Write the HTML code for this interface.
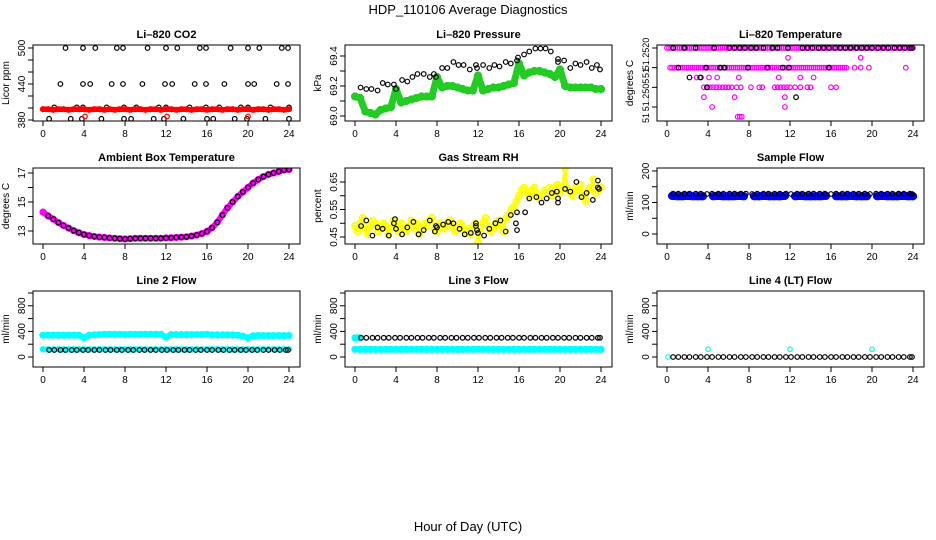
<!DOCTYPE html>
<html><head><meta charset="utf-8">
<style>
html,body{margin:0;padding:0;background:#fff;}
svg{display:block;font-family:"Liberation Sans",Arial,sans-serif;}
</style></head>
<body>
<svg id="chart" width="936" height="540" viewBox="0 0 936 540" xmlns="http://www.w3.org/2000/svg">
<text x="468" y="14" text-anchor="middle" font-size="13">HDP_110106  Average Diagnostics</text>
<text x="468" y="531" text-anchor="middle" font-size="13">Hour of Day (UTC)</text>
</svg>
<script>
// ---------- DATA ----------
const xTicks = [0,4,8,12,16,20,24];
const halfHours = [0,0.5,1,1.5,2,2.5,3,3.5,4,4.5,5,5.5,6,6.5,7,7.5,8,8.5,9,9.5,10,10.5,11,11.5,12,12.5,13,13.5,14,14.5,15,15.5,16,16.5,17,17.5,18,18.5,19,19.5,20,20.5,21,21.5,22,22.5,23,23.5,24];

// CO2
const co2BlackT = [2.2,3.9,5.1,7.2,7.8,10.2,12.0,13.1,15.3,15.9,18.3,20.0,21.1,23.3,23.9, 1.7,3.9,4.6,6.7,7.8,9.7,11.9,12.6,14.8,15.9,17.7,20.0,20.6,22.8,23.9, 1.1,3.3,3.9,6.2,7.9,9.1,11.3,12.0,14.3,15.9,17.2,19.3,20.0,22.2,24.0, 0.6,2.7,3.8,5.7,7.9,8.6,10.8,11.8,13.7,16.0,16.6,18.7,19.9,21.7,24.0];
const co2BlackV = [500,500,500,500,500,500,500,500,500,500,500,500,500,500,500, 440,440,440,440,440,440,440,440,440,440,440,440,440,440,440, 401,401,401,401,401,401,401,401,401,401,401,401,401,401,401, 382,382,382,382,382,382,382,382,382,382,382,382,382,382,382];
const co2RedV = [398,398,397,398,398,397,398,398,398,397,398,398,397,398,397,398,398,397,398,398,397,398,398,397,398,398,397,398,398,397,398,398,397,398,398,397,398,398,397,398,398,397,398,398,397,398,398,397,398];
const co2RedSpikeT = [4.1,12.1,20.0];
const co2RedSpikeV = [386,386,386];

// Pressure
const presGreenV = [69.13,69.12,69.03,69.02,69.01,69.04,69.05,69.06,69.18,69.09,69.10,69.11,69.12,69.13,69.13,69.13,69.26,69.19,69.20,69.20,69.19,69.18,69.17,69.17,69.27,69.17,69.18,69.19,69.19,69.20,69.21,69.22,69.35,69.27,69.29,69.30,69.30,69.29,69.28,69.26,69.31,69.20,69.19,69.19,69.19,69.19,69.19,69.18,69.18];
const presBlackT = [0.55,1.1,1.6,2.2,2.7,3.2,3.8,4.0,4.6,5.1,5.6,6.1,6.7,7.3,7.7,7.9,8.5,9.0,9.6,10.1,10.6,11.2,11.8,11.9,12.5,13.1,13.6,14.1,14.7,15.2,15.8,15.9,16.5,17.0,17.6,18.1,18.6,19.1,19.8,19.8,20.4,21.0,21.5,22.0,22.6,23.1,23.6,23.9];
const presBlackV = [69.19,69.18,69.18,69.17,69.22,69.21,69.21,69.18,69.24,69.23,69.26,69.28,69.28,69.26,69.28,69.26,69.32,69.32,69.36,69.34,69.34,69.31,69.34,69.32,69.34,69.32,69.34,69.33,69.36,69.35,69.37,69.39,69.41,69.43,69.45,69.45,69.45,69.43,69.38,69.36,69.37,69.32,69.35,69.34,69.36,69.32,69.34,69.31];

// Li-820 temperature
const tempBandStart = [0.0, 0.3];
const tempBandEnd = [24.0, 17.6];
const tempBandLevel = [51.2520, 51.2515];
const tempMagT = [18.3,18.9,19.7,23.3,11.8,18.9,2.9,3.2,4.1,4.9,7.0,10.9,13.0,14.3,3.6,3.9,4.2,4.5,4.8,5.1,5.4,5.7,6.0,6.3,6.8,7.2,8.2,9.0,9.3,10.5,10.8,11.1,11.4,11.7,12.0,12.5,13.0,13.7,14.0,16.0,16.5,3.6,6.6,11.5,4.4,11.5,6.9,7.1,7.3];
const tempMagV = [51.2515,51.2515,51.2515,51.2515,51.25175,51.25175,51.25125,51.25125,51.25125,51.25125,51.25125,51.25125,51.25125,51.25125,51.2510,51.2510,51.2510,51.2510,51.2510,51.2510,51.2510,51.2510,51.2510,51.2510,51.2510,51.2510,51.2510,51.2510,51.2510,51.2510,51.2510,51.2510,51.2510,51.2510,51.2510,51.2510,51.2510,51.2510,51.2510,51.2510,51.2510,51.25075,51.25075,51.25075,51.2505,51.2505,51.25025,51.25025,51.25025];
const tempBlackT = [0.6,1.7,2.8,4.6,6.1,6.6,7.1,7.6,8.2,8.7,9.4,10.3,10.8,11.8,13.2,13.7,14.2,14.8,15.3,15.8,16.4,16.9,17.4,17.9,18.5,19.0,19.5,20.0,20.6,21.1,21.6,22.2,22.7,23.2,23.7,23.9,1.1,3.8,5.2,5.6,7.9,9.8,11.3,11.9,15.8,2.2,3.3,3.9,12.6];
const tempBlackV = [51.2520,51.2520,51.2520,51.2520,51.2520,51.2520,51.2520,51.2520,51.2520,51.2520,51.2520,51.2520,51.2520,51.2520,51.2520,51.2520,51.2520,51.2520,51.2520,51.2520,51.2520,51.2520,51.2520,51.2520,51.2520,51.2520,51.2520,51.2520,51.2520,51.2520,51.2520,51.2520,51.2520,51.2520,51.2520,51.2520,51.2515,51.2515,51.2515,51.2515,51.2515,51.2515,51.2515,51.2515,51.2515,51.25125,51.25125,51.2510,51.25075];

// Ambient box temperature
const ambMagV = [14.3,14.05,13.82,13.58,13.38,13.2,13.02,12.88,12.76,12.68,12.62,12.58,12.55,12.52,12.5,12.47,12.45,12.47,12.5,12.5,12.5,12.5,12.5,12.5,12.52,12.53,12.55,12.57,12.6,12.65,12.72,12.82,12.97,13.22,13.6,14.1,14.6,15.0,15.38,15.7,16.0,16.3,16.55,16.75,16.9,17.0,17.1,17.2,17.25];
const ambBlackV = [14.28,14.05,13.82,13.58,13.38,13.2,13.02,12.88,12.76,12.68,12.62,12.58,12.55,12.52,12.5,12.47,12.45,12.47,12.5,12.5,12.5,12.5,12.5,12.5,12.52,12.53,12.55,12.57,12.6,12.65,12.72,12.82,12.97,13.22,13.6,14.1,14.6,15.0,15.38,15.7,16.0,16.3,16.55,16.75,16.9,17.0,17.1,17.2,17.25];

// Gas stream RH
const rhYellowV = [.49,.47,.50,.52,.48,.46,.49,.51,.50,.47,.48,.50,.49,.46,.48,.51,.49,.47,.50,.48,.47,.49,.51,.48,.50,.46,.48,.50,.49,.51,.52,.48,.47,.50,.49,.48,.50,.51,.49,.47,.48,.50,.49,.47,.48,.46,.49,.50,.43,.47,.50,.52,.49,.47,.48,.50,.51,.49,.47,.52,.53,.55,.56,.58,.60,.62,.63,.61,.60,.62,.63,.61,.59,.60,.62,.61,.63,.60,.62,.64,.61,.63,.70,.62,.61,.60,.63,.62,.64,.60,.58,.62,.63,.66,.61,.62,.63];
const rhYellowT = [0,0.25,0.5,0.75,1,1.25,1.5,1.75,2,2.25,2.5,2.75,3,3.25,3.5,3.75,4,4.25,4.5,4.75,5,5.25,5.5,5.75,6,6.25,6.5,6.75,7,7.25,7.5,7.75,8,8.25,8.5,8.75,9,9.25,9.5,9.75,10,10.25,10.5,10.75,11,11.25,11.5,11.75,12,12.25,12.5,12.75,13,13.25,13.5,13.75,14,14.25,14.5,14.75,15,15.25,15.5,15.75,16,16.25,16.5,16.75,17,17.25,17.5,17.75,18,18.25,18.5,18.75,19,19.25,19.5,19.75,20,20.25,20.5,20.75,21,21.25,21.5,21.75,22,22.25,22.5,22.75,23,23.25,23.5,23.75,24];
const rhBlackT = [0.6,1.1,1.7,2.2,2.7,3.3,3.8,3.9,4.0,4.6,5.1,5.7,6.2,6.7,7.3,7.8,7.9,8.0,8.6,9.1,9.6,10.2,10.7,11.3,11.8,11.8,11.9,12.0,12.6,13.1,13.7,14.2,14.7,15.2,15.7,15.8,15.8,16.6,17.0,17.7,18.2,18.7,19.2,19.7,19.8,19.8,20.5,21.0,21.6,22.1,22.6,23.2,23.7,23.7,23.8];
const rhBlackV = [.49,.51,.455,.485,.48,.455,.50,.515,.48,.46,.485,.505,.46,.475,.51,.47,.49,.485,.495,.505,.50,.48,.46,.465,.50,.49,.475,.465,.455,.48,.50,.51,.47,.53,.50,.475,.54,.54,.59,.595,.575,.59,.61,.615,.575,.59,.625,.615,.65,.595,.61,.585,.655,.63,.625];

// Flow panels
const flowBlackT = [0.6,1.1,1.7,2.2,2.8,3.3,3.9,4.4,5.0,5.5,6.1,6.6,7.2,7.7,8.3,8.8,9.4,9.9,10.5,11.0,11.6,12.1,12.7,13.2,13.8,14.3,14.9,15.4,16.0,16.5,17.1,17.6,18.2,18.7,19.3,19.8,20.4,20.9,21.5,22.0,22.6,23.1,23.7,23.9];
const sampleBlackV = [128,128,128,128,128,128,127,128,128,128,128,128,128,128,127,128,128,128,128,128,128,127,128,128,128,128,128,128,127,128,128,128,128,128,128,127,128,128,128,128,128,128,128,127];
const sampleBlueV = [null,121,120,120,121,120,120,120,null,120,121,120,120,120,121,120,null,120,120,121,120,120,120,121,null,120,121,120,120,120,120,121,null,120,120,120,121,120,120,120,null,120,121,120,120,120,121,120,120];
const line2UpperV = [340,340,340,340,340,340,340,340,300,340,345,350,355,355,355,355,350,355,355,355,355,355,355,355,310,350,350,350,350,350,350,350,355,345,345,345,345,345,340,325,300,330,335,335,335,335,335,335,335];
const line2LowerV = [120,120,120,120,120,120,120,120,120,120,120,120,120,120,120,120,120,120,120,120,120,120,120,120,120,120,120,120,120,120,120,120,120,120,120,120,120,120,120,120,120,120,120,120,120,120,120,120,120];
const line2BlackV = [110,110,110,110,110,110,110,110,110,110,110,110,110,110,110,110,110,110,110,110,110,110,110,110,110,110,110,110,110,110,110,110,110,110,110,110,110,110,110,110,110,110,110,110];
const line3UpperT = [0,0.25,0.5];
const line3UpperV = [300,300,300];
const line3LowerV = [120,118,118,118,118,118,118,118,118,118,118,118,118,118,118,118,118,118,118,118,118,118,118,118,122,118,118,118,118,118,118,118,118,118,118,118,118,118,118,118,118,118,118,118,118,118,118,118,118];
const line3BlackV = [300,300,300,300,300,300,300,300,300,300,300,300,300,300,300,300,300,300,300,300,300,300,300,300,300,300,300,300,300,300,300,300,300,300,300,300,300,300,300,300,300,300,300,300];
const line4CyanT = [0.1,4.0,12.0,20.0];
const line4CyanV = [0,120,120,120];
const line4BlackV = [0,0,0,0,0,0,0,0,0,0,0,0,0,0,0,0,0,0,0,0,0,0,0,0,0,0,0,0,0,0,0,0,0,0,0,0,0,0,0,0,0,0,0,0];

// ---------- DRAWING ----------
const NS = "http://www.w3.org/2000/svg";
const svg = document.getElementById('chart');
const colLeft = [33, 345, 657];
const rowTop = [45, 168, 291];
const BW = 267, BH = 76;
function mk(tag, attrs, parent){ const e=document.createElementNS(NS,tag); for(const k in attrs) e.setAttribute(k,attrs[k]); (parent||svg).appendChild(e); return e; }

function panel(cfg){
  const L = colLeft[cfg.col], T = rowTop[cfg.row];
  const g = mk('g',{});
  
  
  const sx = t => L + 10 + t * (246/24);
  const sy = v => T + cfg.o1 + (v - cfg.v1) * (cfg.o2 - cfg.o1) / (cfg.v2 - cfg.v1);
  const tt = mk('text',{x:L+BW/2, y:T-7, 'text-anchor':'middle','font-size':11,'font-weight':'bold'}, g);
  tt.textContent = cfg.title;
  
  
  xTicks.forEach(t=>{
    mk('line',{x1:sx(t),x2:sx(t),y1:T+BH,y2:T+BH+5,stroke:'#000','stroke-width':1}, g);
    const tl = mk('text',{x:sx(t),y:T+BH+16,'text-anchor':'middle','font-size':10}, g);
    tl.textContent = t;
    
    
  });
  cfg.yTicks.forEach(v=>{
    mk('line',{x1:L-5,x2:L,y1:sy(v),y2:sy(v),stroke:'#000','stroke-width':1}, g);
  });
  const fs = cfg.yFont || 10;
  cfg.yLabels.forEach((lab,i)=>{
    const y = cfg.yLabelPos ? T + cfg.yLabelPos[i] : sy(cfg.yLabelVals[i]);
    const yl = mk('text',{x:L-8,y:y,'text-anchor':'middle','font-size':fs,transform:`rotate(-90 ${L-8} ${y})`}, g);
    yl.textContent = lab;
    
    
  });
  const ya = mk('text',{x:L-24,y:T+BH/2,'text-anchor':'middle','font-size':10,transform:`rotate(-90 ${L-24} ${T+BH/2})`}, g);
  ya.textContent = cfg.ylab;
  
  
  const cid = 'clip'+cfg.col+cfg.row;
  const cp = mk('clipPath',{id:cid}, g);
  mk('rect',{x:L,y:T,width:BW,height:BH}, cp);
  const pg = mk('g',{'clip-path':`url(#${cid})`}, g);
  cfg.series.forEach(s=>{
    const sg = mk('g',{}, pg);
    
    
    if(s.lw){
      let d='', pen=false;
      for(let i=0;i<s.v.length;i++){
        if(s.v[i]===null){pen=false;continue;}
        d += (pen?'L':'M') + sx(s.t[i]).toFixed(1)+' '+sy(s.v[i]).toFixed(1)+' ';
        pen=true;
      }
      const p = mk('path',{d:d,fill:'none',stroke:s.color,'stroke-width':s.lw,'stroke-linecap':'round','stroke-linejoin':'round'}, sg);
      
      
    }
    for(let i=0;i<s.v.length;i++){
      if(s.v[i]===null || s.t[i]===undefined) continue;
      const c = mk('circle',{cx:sx(s.t[i]).toFixed(1), cy:sy(s.v[i]).toFixed(1), r:s.r||2.3,
        fill:s.fill?s.color:'none', stroke:s.color,'stroke-width':s.sw||1.2}, sg);
      
      
    }
  });
  const box = mk('rect',{x:L,y:T,width:BW,height:BH,fill:'none',stroke:'#000','stroke-width':1}, g);
  
  
}

const bandT=[], bandV=[];
for(let b=0;b<tempBandStart.length;b++){
  for(let t=tempBandStart[b]; t<=tempBandEnd[b]+1e-9; t+=0.2){ bandT.push(t); bandV.push(tempBandLevel[b]); }
}

panel({col:0,row:0,name:'co2-panel',title:'Li–820 CO2',ylab:'Licor ppm',v1:500,o1:3,v2:380,o2:75,
  yTicks:[380,400,420,440,460,480,500],yLabels:['380','440','500'],yLabelVals:[380,440,500],
  series:[{name:'co2-average',t:co2BlackT,v:co2BlackV,color:'#000'},
          {name:'co2-raw',t:halfHours,v:co2RedV,color:'#ff0000',r:2.5,fill:true,lw:5.5},
          {name:'co2-raw-spikes',t:co2RedSpikeT,v:co2RedSpikeV,color:'#ff0000'}]});
panel({col:1,row:0,name:'pressure-panel',title:'Li–820 Pressure',ylab:'kPa',v1:69.4,o1:11,v2:69.0,o2:71,
  yTicks:[69.0,69.1,69.2,69.3,69.4],yLabels:['69.0','69.2','69.4'],yLabelVals:[69.0,69.2,69.4],
  series:[{name:'pressure-raw',t:halfHours,v:presGreenV,color:'#22cc22',r:3.5,fill:true,lw:7},
          {name:'pressure-average',t:presBlackT,v:presBlackV,color:'#000'}]});
panel({col:2,row:0,name:'li820-temperature-panel',title:'Li–820 Temperature',ylab:'degrees C',v1:51.2520,o1:3,v2:51.2505,o2:62,
  yTicks:[51.2520,51.2515,51.2510,51.2505],yLabels:['51.2520','51','51.2505','51'],yLabelPos:[9,28,50,73],yFont:9,
  series:[{name:'temperature-raw-band',t:bandT,v:bandV,color:'#ff00ff',r:2.3},
          {name:'temperature-raw',t:tempMagT,v:tempMagV,color:'#ff00ff'},
          {name:'temperature-average',t:tempBlackT,v:tempBlackV,color:'#000'}]});
panel({col:0,row:1,name:'ambient-temperature-panel',title:'Ambient Box Temperature',ylab:'degrees C',v1:17,o1:5,v2:13,o2:63,
  yTicks:[13,14,15,16,17],yLabels:['13','15','17'],yLabelVals:[13,15,17],
  series:[{name:'ambient-raw',t:halfHours,v:ambMagV,color:'#ff00ff',r:3,fill:true,lw:6},
          {name:'ambient-average',t:halfHours.slice(1),v:ambBlackV.slice(1),color:'#000'}]});
panel({col:1,row:1,name:'gas-rh-panel',title:'Gas Stream RH',ylab:'percent',v1:0.65,o1:14,v2:0.45,o2:69,
  yTicks:[0.45,0.50,0.55,0.60,0.65],yLabels:['0.45','0.55','0.65'],yLabelVals:[0.45,0.55,0.65],
  series:[{name:'rh-raw',t:rhYellowT,v:rhYellowV,color:'#ffff00',r:3,sw:1.8,lw:3},
          {name:'rh-average',t:rhBlackT,v:rhBlackV,color:'#000'}]});
panel({col:2,row:1,name:'sample-flow-panel',title:'Sample Flow',ylab:'ml/min',v1:200,o1:3,v2:0,o2:66,
  yTicks:[0,50,100,150,200],yLabels:['0','100','200'],yLabelVals:[0,100,200],
  series:[{name:'sample-flow-raw',t:halfHours,v:sampleBlueV,color:'#0000ff',r:3.5,fill:true,lw:8},
          {name:'sample-flow-average',t:flowBlackT,v:sampleBlackV,color:'#000'}]});
const flowTicks=[0,200,400,600,800,1000];
panel({col:0,row:2,name:'line2-flow-panel',title:'Line 2 Flow',ylab:'ml/min',v1:1000,o1:2,v2:0,o2:66,
  yTicks:flowTicks,yLabels:['0','400','800'],yLabelVals:[0,400,800],
  series:[{name:'line2-upper-raw',t:halfHours,v:line2UpperV,color:'#00ffff',r:3,fill:true,lw:6},
          {name:'line2-lower-raw',t:halfHours,v:line2LowerV,color:'#00ffff',r:2.6,fill:true,lw:5},
          {name:'line2-average',t:flowBlackT,v:line2BlackV,color:'#000'}]});
panel({col:1,row:2,name:'line3-flow-panel',title:'Line 3 Flow',ylab:'ml/min',v1:1000,o1:2,v2:0,o2:66,
  yTicks:flowTicks,yLabels:['0','400','800'],yLabelVals:[0,400,800],
  series:[{name:'line3-upper-raw',t:line3UpperT,v:line3UpperV,color:'#00ffff',r:3,fill:true,lw:6},
          {name:'line3-lower-raw',t:halfHours,v:line3LowerV,color:'#00ffff',r:3,fill:true,lw:6},
          {name:'line3-average',t:flowBlackT,v:line3BlackV,color:'#000'}]});
panel({col:2,row:2,name:'line4-flow-panel',title:'Line 4 (LT) Flow',ylab:'ml/min',v1:1000,o1:2,v2:0,o2:66,
  yTicks:flowTicks,yLabels:['0','400','800'],yLabelVals:[0,400,800],
  series:[{name:'line4-raw',t:line4CyanT,v:line4CyanV,color:'#00ffff'},
          {name:'line4-average',t:flowBlackT,v:line4BlackV,color:'#000'}]});
</script>
</body></html>
